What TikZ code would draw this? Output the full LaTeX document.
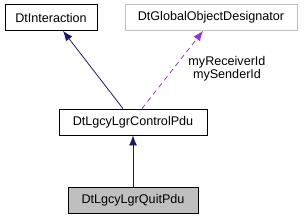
\documentclass[tikz,border=0pt]{standalone}
\usepackage{fontspec}
\setmainfont{Liberation Sans}
\usetikzlibrary{arrows.meta,positioning,calc}
\definecolor{navy}{RGB}{25,25,112}
\definecolor{orchid}{RGB}{154,50,205}
\definecolor{lightgray}{RGB}{191,191,191}

\begin{document}
\begin{tikzpicture}[
  x=1pt,
  y=-1pt,
  cls/.style={
    draw=black,
    fill=white,
    line width=.8pt,
    inner sep=0pt,
    minimum height=26pt,
    align=center,
    font=\fontsize{12.6}{13}\selectfont
  },
  note/.style={
    font=\fontsize{12.6}{13}\selectfont,
    align=center
  }
]
\useasboundingbox (0,0) rectangle (305,219);

\node[cls,minimum width=92pt] (inter) at (51,17.5) {DtInteraction};
\node[cls,minimum width=172pt,draw=lightgray] (gdes) at (211,17.5) {DtGlobalObjectDesignator};
\node[cls,minimum width=148pt] (ctrl) at (133,122) {DtLgcyLgrControlPdu};
\node[cls,minimum width=130pt,fill=lightgray] (quit) at (133,200) {DtLgcyLgrQuitPdu};

% Inheritance
\draw[-{Latex[length=10pt,width=8pt]},navy,line width=.8pt]
  ([xshift=-10pt]ctrl.north) -- ([xshift=12pt]inter.south);

\draw[-{Latex[length=10pt,width=8pt]},navy,line width=.8pt]
  (quit.north) -- (ctrl.south);

% Usage
\draw[-{Latex[length=10pt,width=8pt]},orchid,line width=.8pt,dash pattern=on 5pt off 4pt]
  ([xshift=9pt]ctrl.north) -- ([xshift=-8pt]gdes.south);

\node[note] (lbl) at (227,69) {myReceiverId\\mySenderId};

\end{tikzpicture}
\end{document}
